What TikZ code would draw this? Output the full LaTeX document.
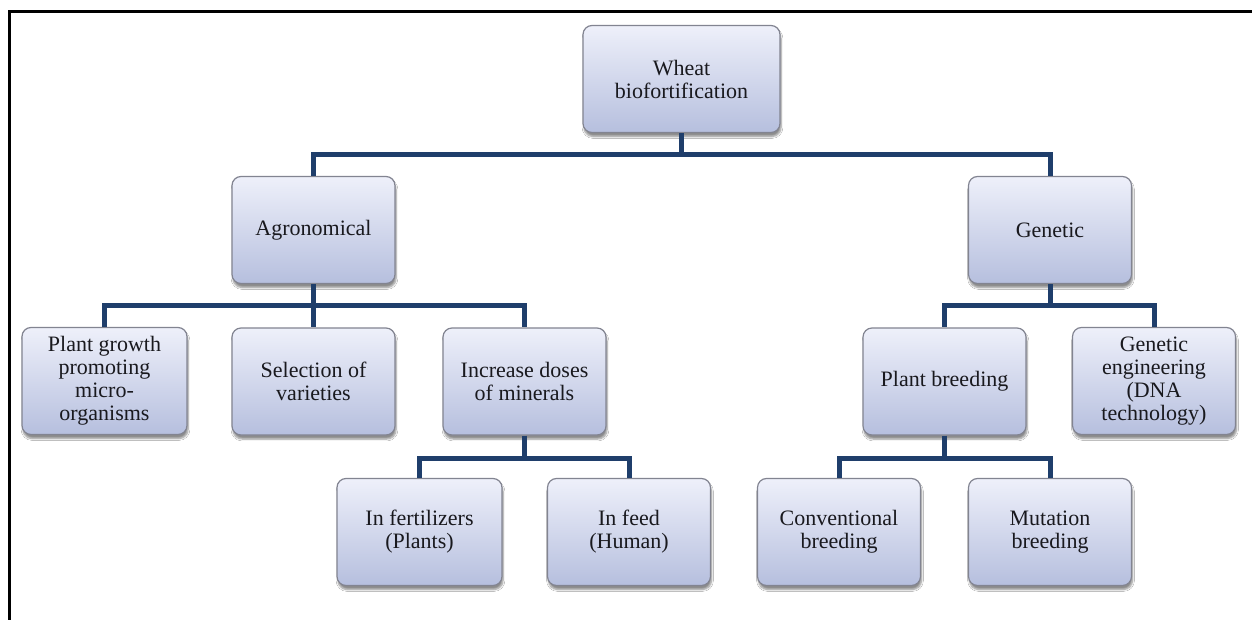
\documentclass[tikz,border=0pt]{standalone}
\usepackage{fontspec}
\setmainfont{Liberation Serif}
\usetikzlibrary{shadows.blur}
\definecolor{conncol}{RGB}{31,62,107}
\definecolor{boxtop}{RGB}{238,240,250}
\definecolor{boxbot}{RGB}{182,191,222}
\definecolor{boxline}{RGB}{130,132,145}
\definecolor{txtcol}{RGB}{25,25,30}
\tikzset{
  tbox/.style={rectangle, rounded corners=9pt, draw=boxline, line width=1.2pt,
    top color=boxtop, bottom color=boxbot, minimum width=163pt, minimum height=107pt,
    align=center, inner sep=2pt, text=txtcol,
    font=\fontsize{22}{23}\selectfont,
    blur shadow={shadow xshift=1pt, shadow yshift=-4pt, shadow blur steps=6, shadow opacity=45}},
  conn/.style={draw=conncol, line width=5pt, line join=miter},
  frame/.style={draw=black, line width=3pt}
}
\begin{document}
\begin{tikzpicture}[x=1pt,y=-1pt]
\useasboundingbox (0,0) rectangle (1252,620);
\fill[white] (0,0) rectangle (1252,620);
\draw[frame] (1252,11.5) -- (9.5,11.5) -- (9.5,620);

\coordinate (b0) at (0,155);
\coordinate (b1) at (0,305);
\coordinate (b2) at (0,458);

\node[tbox, minimum width=197pt] (wheat) at (681.5,79) {Wheat\\biofortification};
\node[tbox] (agro) at (313.5,230) {Agronomical};
\node[tbox] (gen) at (1050,230) {Genetic};
\node[tbox, minimum width=165pt] (pgp) at (104.5,381) {Plant growth\\promoting\\micro-\\organisms};
\node[tbox] (sel) at (313.5,381.5) {Selection of\\varieties};
\node[tbox] (inc) at (524.5,381.5) {Increase doses\\of minerals};
\node[tbox] (pb) at (944.5,381.5) {Plant breeding};
\node[tbox] (ge) at (1154,381) {Genetic\\engineering\\(DNA\\technology)};
\node[tbox, minimum width=165pt] (fert) at (419.5,532) {In fertilizers\\(Plants)};
\node[tbox] (feed) at (629,532) {In feed\\(Human)};
\node[tbox] (conv) at (839,532) {Conventional\\breeding};
\node[tbox] (mut) at (1050,532) {Mutation\\breeding};

\draw[conn] (wheat.south) -- (wheat.south |- b0) -| (agro.north);
\draw[conn] (wheat.south |- b0) -| (gen.north);

\draw[conn] (agro.south) -- (sel.north);
\draw[conn] (agro.south |- b1) -| (pgp.north);
\draw[conn] (agro.south |- b1) -| (inc.north);

\draw[conn] (gen.south) -- (gen.south |- b1) -| (pb.north);
\draw[conn] (gen.south |- b1) -| (ge.north);

\draw[conn] (inc.south) -- (inc.south |- b2) -| (fert.north);
\draw[conn] (inc.south |- b2) -| (feed.north);

\draw[conn] (pb.south) -- (pb.south |- b2) -| (conv.north);
\draw[conn] (pb.south |- b2) -| (mut.north);
\end{tikzpicture}
\end{document}
